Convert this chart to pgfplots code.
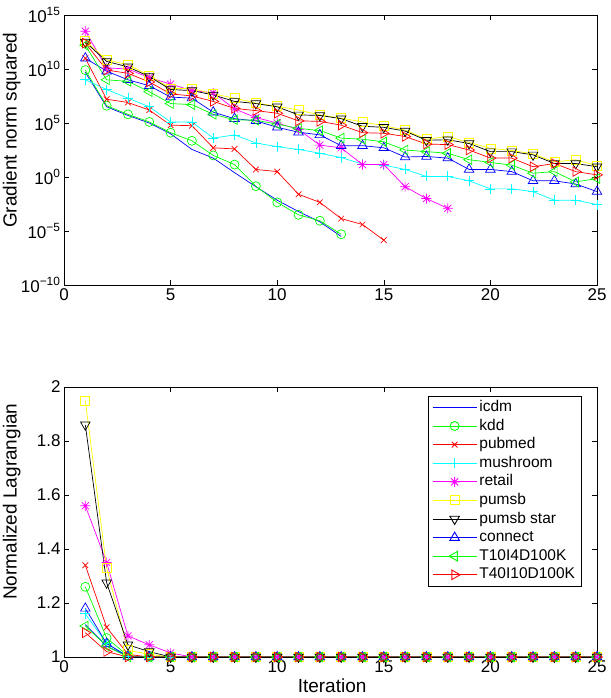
\documentclass[border=0pt]{standalone}
\usepackage{fontspec}
\setmainfont{Liberation Sans}
\usepackage{pgfplots}
\usepackage{pgfplotstable}
\pgfplotsset{compat=1.18}

\definecolor{lnblue}{rgb}{0,0,1}
\definecolor{lngreen}{rgb}{0,1,0}
\definecolor{lnred}{rgb}{1,0,0}
\definecolor{lncyan}{rgb}{0,1,1}
\definecolor{lnmagenta}{rgb}{1,0,1}
\definecolor{lnyellow}{rgb}{1,1,0}
\definecolor{lnblack}{rgb}{0,0,0}

% eight-armed asterisk (plus and cross together)
\pgfdeclareplotmark{mstar}{%
  \pgfpathmoveto{\pgfqpoint{0pt}{\pgfplotmarksize}}%
  \pgfpathlineto{\pgfqpoint{0pt}{-\pgfplotmarksize}}%
  \pgfpathmoveto{\pgfqpoint{\pgfplotmarksize}{0pt}}%
  \pgfpathlineto{\pgfqpoint{-\pgfplotmarksize}{0pt}}%
  \pgfpathmoveto{\pgfqpoint{.707\pgfplotmarksize}{.707\pgfplotmarksize}}%
  \pgfpathlineto{\pgfqpoint{-.707\pgfplotmarksize}{-.707\pgfplotmarksize}}%
  \pgfpathmoveto{\pgfqpoint{-.707\pgfplotmarksize}{.707\pgfplotmarksize}}%
  \pgfpathlineto{\pgfqpoint{.707\pgfplotmarksize}{-.707\pgfplotmarksize}}%
  \pgfusepathqstroke}

% gradient norm squared per iteration
\pgfplotstableread{
it icdm     kdd     pubmed  mush     retail   pumsb   pstar   connect tten     tforty
1  5.01e9   7.94e9  1e11    1e9      3.16e13  3.98e12 3.16e12 1e11    1.58e12  2.51e12
2  3.16e6   3.98e6  1.58e7  1.26e8   1.26e10  7.08e10 5.01e10 6.31e9  1e9      7.94e9
3  5.01e5   6.31e5  7.94e6  2.0e7    1e10     2.51e10 1.58e10 1e9     7.08e8   3.98e9
4  1e5      1.26e5  1.58e6  3.16e6   1.58e9   2.51e9  2.0e9   2.82e8  7.94e7   6.31e8
5  1e4      1.26e4  6.31e4  1.26e5   3.98e8   1.58e8  1.26e8  2.51e7  6.31e6   5.01e7
6  3.55e2   2.24e3  5.62e4  1.26e5   1e8      1.58e8  1e8     2.0e7   5.01e6   3.16e7
7  5.62e1   1e2     5.01e2  3.98e3   6.31e7   5.01e7  3.98e7  1e6     6.31e5   1e7
8  2.51     1.41e1  3.98e2  7.94e3   2.0e6    2.0e7   1e7     2.51e5  2.0e5    2.24e6
9  1.26e-1  1.41e-1 5.01    1.41e3   3.16e5   7.08e6  6.31e6  1.58e5  1.78e5   1.41e6
10 7.08e-3  4.47e-3 3.16    6.31e2   1e5      3.55e6  3.16e6  3.98e4  7.94e4   7.94e5
11 6.31e-4  3.16e-4 2.51e-2 3.55e2   2.51e4   1.58e6  5.62e5  1.41e4  3.16e4   1.58e5
12 7.08e-5  8.91e-5 4.47e-3 1.58e2   8.91e2   5.62e5  5.01e5  7.94e3  2.0e4    1.41e5
13 3.16e-6  5.01e-6 1.41e-4 6.31e1   5.01e2   2.82e5  2.51e5  7.94e2  3.98e3   6.31e4
14 nan      nan     3.98e-5 1.58e1   1.41e1   1.26e5  5.01e4  7.94e2  3.16e3   1.26e4
15 nan      nan     1.41e-6 1.26e1   1.41e1   5.62e4  3.98e4  5.01e2  1.78e3   1.12e4
16 nan      nan     nan     5.01     1.26e-1  2.24e4  1.78e4  7.08e1  3.16e2   5.62e3
17 nan      nan     nan     1.12     1e-2     3.16e3  2.51e3  7.94e1  2.24e2   1.12e3
18 nan      nan     nan     1.12     1.26e-3  5.62e3  2.82e3  5.62e1  1.58e2   1e3
19 nan      nan     nan     4.47e-1  nan      1.58e3  1.26e3  5.01    3.98e1   3.16e2
20 nan      nan     nan     7.94e-2  nan      4.47e2  2.24e2  5.01    2.24e1   5.62e1
21 nan      nan     nan     7.94e-2  nan      2.82e2  2.24e2  3.16    1.26e1   5.62e1
22 nan      nan     nan     4.47e-2  nan      1.41e2  1.12e2  4.47e-1 2.24     8.91
23 nan      nan     nan     7.08e-3  nan      2.51e1  1.78e1  4.47e-1 3.16     1.78e1
24 nan      nan     nan     7.08e-3  nan      3.98e1  1.78e1  2.24e-1 3.55e-1  3.16
25 nan      nan     nan     2.82e-3  nan      1.12e1  8.91    4.47e-2 7.08e-1  1.58
}\gradtable

% normalized Lagrangian per iteration
\pgfplotstableread{
it icdm  kdd   pubmed mush  retail pumsb pstar connect tten  tforty
1  1.12  1.26  1.34   1.16  1.56   1.95  1.86  1.18    1.115 1.09
2  1.04  1.07  1.11   1.05  1.35   1.33  1.275 1.05    1.04  1.02
3  1.003 1.005 1.01   1.003 1.078  1.025 1.045 1.002   1.0   1.0
4  1     1     1      1     1.045  1.01  1.02  1       1     1
5  1     1     1      1     1.015  1     1     1       1     1
6  1     1     1      1     1      1     1     1       1     1
7  1     1     1      1     1      1     1     1       1     1
8  1     1     1      1     1      1     1     1       1     1
9  1     1     1      1     1      1     1     1       1     1
10 1     1     1      1     1      1     1     1       1     1
11 1     1     1      1     1      1     1     1       1     1
12 1     1     1      1     1      1     1     1       1     1
13 1     1     1      1     1      1     1     1       1     1
14 1     1     1      1     1      1     1     1       1     1
15 1     1     1      1     1      1     1     1       1     1
16 1     1     1      1     1      1     1     1       1     1
17 1     1     1      1     1      1     1     1       1     1
18 1     1     1      1     1      1     1     1       1     1
19 1     1     1      1     1      1     1     1       1     1
20 1     1     1      1     1      1     1     1       1     1
21 1     1     1      1     1      1     1     1       1     1
22 1     1     1      1     1      1     1     1       1     1
23 1     1     1      1     1      1     1     1       1     1
24 1     1     1      1     1      1     1     1       1     1
25 1     1     1      1     1      1     1     1       1     1
}\lagtable

\pgfplotsset{
  panel/.style={
    scale only axis, width=533bp, height=270bp,
    xmin=0, xmax=25, xtick={0,5,...,25},
    tick align=inside, major tick length=5bp,
    axis line style={line width=0.7bp},
    every tick/.style={black, line width=0.6bp},
    tick label style={font=\fontsize{17bp}{20bp}\selectfont},
    label style={font=\fontsize{19bp}{22bp}\selectfont},
    /pgf/number format/assume math mode=true,
    every axis plot/.append style={line width=0.7bp},
  },
  s icdm/.style={draw=lnblue, color=lnblue, mark=none},
  s kdd/.style={lngreen, mark=o, mark size=4.5bp, mark options={solid}},
  s pubmed/.style={lnred, mark=x, mark size=4bp, mark options={solid}},
  s mush/.style={draw=lncyan, color=lncyan, mark=+, mark size=5bp, mark options={solid}},
  s retail/.style={lnmagenta, mark=mstar, mark size=5bp, mark options={solid}},
  s pumsb/.style={lnyellow, mark=square, mark size=4.5bp, mark options={solid}},
  s pstar/.style={lnblack, mark=triangle, mark size=5.5bp, mark options={solid, rotate=180}},
  s connect/.style={lnblue, mark=triangle, mark size=5.5bp, mark options={solid}},
  s tten/.style={lngreen, mark=triangle, mark size=5.5bp, mark options={solid, rotate=90}},
  s tforty/.style={lnred, mark=triangle, mark size=5.5bp, mark options={solid, rotate=-90}},
}

\begin{document}
\begin{tikzpicture}
\path[use as bounding box] (0,0) rectangle (611bp,698bp);

% upper panel: gradient norm squared (log scale)
\begin{axis}[panel,
  at={(64bp,413bp)}, anchor=south west,
  ymode=log, log basis y=10,
  ymin=1e-10, ymax=1e15,
  ytick={1e-10,1e-5,1,1e5,1e10,1e15},
  yticklabels={10\textsuperscript{−10},10\textsuperscript{−5},10\textsuperscript{0},10\textsuperscript{5},10\textsuperscript{10},10\textsuperscript{15}},
  yminorticks=false,
  ylabel={Gradient norm squared},
  ylabel style={at={(axis description cs:-0.098,0.573)}, anchor=center},
]
\addplot[s icdm]    table[x=it, y=icdm]    {\gradtable};
\addplot[s kdd]     table[x=it, y=kdd]     {\gradtable};
\addplot[s pubmed]  table[x=it, y=pubmed]  {\gradtable};
\addplot[s mush]    table[x=it, y=mush]    {\gradtable};
\addplot[s retail]  table[x=it, y=retail]  {\gradtable};
\addplot[s pumsb]   table[x=it, y=pumsb]   {\gradtable};
\addplot[s pstar]   table[x=it, y=pstar]   {\gradtable};
\addplot[s connect] table[x=it, y=connect] {\gradtable};
\addplot[s tten]    table[x=it, y=tten]    {\gradtable};
\addplot[s tforty]  table[x=it, y=tforty]  {\gradtable};
\end{axis}

% lower panel: normalized Lagrangian
\begin{axis}[panel,
  at={(64bp,41bp)}, anchor=south west,
  ymin=1, ymax=2, ytick={1,1.2,...,2},
  yticklabel style={/pgf/number format/fixed, /pgf/number format/precision=1},
  ylabel={Normalized Lagrangian},
  ylabel style={at={(axis description cs:-0.098,0.575)}, anchor=center},
  xlabel={Iteration},
  xlabel style={at={(axis description cs:0.503,-0.108)}, anchor=center},
  legend style={at={(0.971,0.967)}, anchor=north east,
    font=\fontsize{15.5bp}{18bp}\selectfont, cells={anchor=west},
    nodes={text height=11bp, text depth=3bp, inner sep=2.3bp},
    inner xsep=4bp, inner ysep=2bp},
  legend image code/.code={\draw[mark repeat=2, mark phase=2, line width=0.9bp, #1]
    plot coordinates {(0bp,0bp) (22bp,0bp) (44bp,0bp)};},
]
\addplot[s icdm]    table[x=it, y=icdm]    {\lagtable};
\addplot[s kdd]     table[x=it, y=kdd]     {\lagtable};
\addplot[s pubmed]  table[x=it, y=pubmed]  {\lagtable};
\addplot[s mush]    table[x=it, y=mush]    {\lagtable};
\addplot[s retail]  table[x=it, y=retail]  {\lagtable};
\addplot[s pumsb]   table[x=it, y=pumsb]   {\lagtable};
\addplot[s pstar]   table[x=it, y=pstar]   {\lagtable};
\addplot[s connect] table[x=it, y=connect] {\lagtable};
\addplot[s tten]    table[x=it, y=tten]    {\lagtable};
\addplot[s tforty]  table[x=it, y=tforty]  {\lagtable};
\legend{icdm, kdd, pubmed, mushroom, retail, pumsb, pumsb star, connect, T10I4D100K, T40I10D100K}
\end{axis}
\end{tikzpicture}
\end{document}
